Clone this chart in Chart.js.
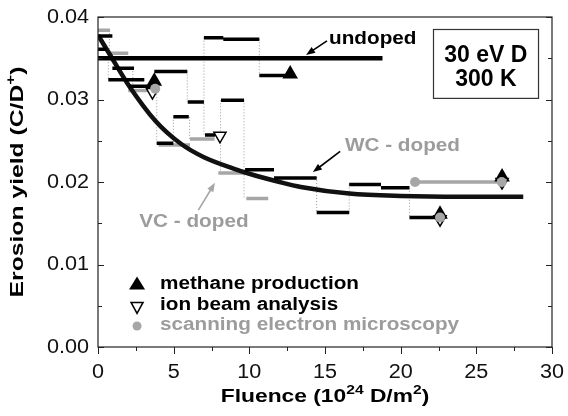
<!DOCTYPE html>
<html lang="en">
<head>
<meta charset="UTF-8">
<title>Erosion yield vs fluence</title>
<script src="https://cdn.jsdelivr.net/npm/chart.js"></script>
<style>
    html, body { margin: 0; padding: 0; background: #fff; }
    #wrap { width: 568px; height: 416px; position: relative; }
</style>
</head>
<body>
<div id="wrap"><canvas id="erosionChart"></canvas></div>
<script>
// axis ticks
const xTicks = [0, 5, 10, 15, 20, 25, 30];
const yTicks = [0.00, 0.01, 0.02, 0.03, 0.04];

// undoped reference level
const undopedX = [0, 18.8];
const undopedY = [0.035, 0.035];

// fitted decay curve
const fitX = [0, 0.7, 2, 3.8, 5.5, 7, 9, 10, 12, 13.4, 16.6, 20, 24, 28.1];
const fitY = [0.0378, 0.0357, 0.0318, 0.0274, 0.0246, 0.0230, 0.0216, 0.0210, 0.0200, 0.0194, 0.0186, 0.0183, 0.0182, 0.0182];

// black step segments: start fluence, end fluence, yield
const blackStart = [0, 0, 0.95, 0.68, 2.07, 3.72, 5.93, 7.0, 8.28, 10.66, 3.88, 4.98, 7.07, 8.13, 9.72, 11.63, 14.45, 16.6, 18.7, 20.58];
const blackEnd   = [0.95, 0.57, 2.38, 3.06, 3.5, 5.9, 7.0, 8.28, 10.66, 12.5, 4.98, 6.0, 7.73, 9.65, 11.63, 14.45, 16.6, 18.7, 20.58, 22.6];
const blackYield = [0.0377, 0.0361, 0.0338, 0.0324, 0.0316, 0.0334, 0.0297, 0.0375, 0.0373, 0.0329, 0.0247, 0.0279, 0.0257, 0.0299, 0.0215, 0.0205, 0.0163, 0.0197, 0.0193, 0.0157];

// grey step segments
const grayStart = [0, 0.68, 2.0, 4.0, 6.08, 7.95, 9.8, 20.95];
const grayEnd   = [0.8, 2.0, 3.44, 6.08, 7.7, 9.72, 11.25, 26.68];
const grayYield = [0.0384, 0.0356, 0.0311, 0.0245, 0.0252, 0.0211, 0.0180, 0.0200];

// dotted vertical links between steps: fluence, from, to
const linkX    = [0.75, 0.68, 2.3, 3.88, 4.98, 5.9, 6.05, 7.0, 8.1, 9.65, 10.66, 14.45, 16.6, 20.58];
const linkFrom = [0.0384, 0.0356, 0.0338, 0.0310, 0.0279, 0.0334, 0.0279, 0.0375, 0.0299, 0.0299, 0.0373, 0.0206, 0.0197, 0.0193];
const linkTo   = [0.0356, 0.0324, 0.0313, 0.0247, 0.0247, 0.0297, 0.0252, 0.0255, 0.0211, 0.0180, 0.0329, 0.0163, 0.0163, 0.0157];

// measurement markers
const methaneX = [3.72, 12.7, 22.6, 26.7];
const methaneY = [0.0322, 0.0331, 0.0161, 0.0206];
const ionX = [3.6, 8.06, 22.6, 26.7];
const ionY = [0.0309, 0.0256, 0.0155, 0.0200];
const semX = [3.78, 20.95, 22.6, 26.68];
const semY = [0.0313, 0.0200, 0.0157, 0.0200];

const FONT = 'Arial, "Liberation Sans", Helvetica, sans-serif';
const GRAY = '#a6a6a6';
const GRAY_TEXT = '#9c9c9c';

function pts(xs, ys) {
    return xs.map((x, i) => ({ x: x, y: ys[i] }));
}
function segs(x0s, x1s, ys) {
    const d = [];
    x0s.forEach((x0, i) => {
        d.push({ x: x0, y: ys[i] }, { x: x1s[i], y: ys[i] }, { x: x1s[i], y: null });
    });
    return d;
}
function links(xs, y0s, y1s) {
    const d = [];
    xs.forEach((x, i) => {
        d.push({ x: x, y: y0s[i] }, { x: x, y: y1s[i] }, { x: x, y: null });
    });
    return d;
}

// text with optional superscript parts and horizontal stretch
function drawText(ctx, parts, x, y, size, opts) {
    const o = Object.assign({ weight: 'bold', color: '#000', align: 'left', sx: 1, rot: 0 }, opts);
    const fontFor = (sup) => o.weight + ' ' + (sup ? Math.round(size * 0.68) : size) + 'px ' + FONT;
    ctx.save();
    ctx.fillStyle = o.color;
    ctx.textBaseline = 'middle';
    ctx.textAlign = 'left';
    let w = 0;
    parts.forEach(p => { ctx.font = fontFor(p[1]); w += ctx.measureText(p[0]).width; });
    ctx.translate(x, y);
    if (o.rot) ctx.rotate(o.rot);
    ctx.scale(o.sx, 1);
    let cx = o.align === 'center' ? -w / 2 : (o.align === 'right' ? -w : 0);
    parts.forEach(p => {
        ctx.font = fontFor(p[1]);
        ctx.fillText(p[0], cx, p[1] ? -size * 0.32 : 0);
        cx += ctx.measureText(p[0]).width;
    });
    ctx.restore();
}

function arrow(ctx, x0, y0, x1, y1, color) {
    const a = Math.atan2(y1 - y0, x1 - x0);
    const L = 9, W = 3.5;
    ctx.save();
    ctx.strokeStyle = color;
    ctx.fillStyle = color;
    ctx.lineWidth = 1.6;
    ctx.beginPath();
    ctx.moveTo(x0, y0);
    ctx.lineTo(x1 - Math.cos(a) * L * 0.8, y1 - Math.sin(a) * L * 0.8);
    ctx.stroke();
    ctx.beginPath();
    ctx.moveTo(x1, y1);
    ctx.lineTo(x1 - Math.cos(a) * L + Math.sin(a) * W, y1 - Math.sin(a) * L - Math.cos(a) * W);
    ctx.lineTo(x1 - Math.cos(a) * L - Math.sin(a) * W, y1 - Math.sin(a) * L + Math.cos(a) * W);
    ctx.closePath();
    ctx.fill();
    ctx.restore();
}

const decorations = {
    id: 'decorations',
    afterDraw(chart) {
        const ctx = chart.ctx;
        const xs = chart.scales.x, ys = chart.scales.y;
        const area = chart.chartArea;
        const X = v => xs.getPixelForValue(v);
        const Y = v => ys.getPixelForValue(v);

        ctx.save();
        // frame
        ctx.strokeStyle = '#222';
        ctx.lineWidth = 1.2;
        ctx.strokeRect(area.left, area.top, area.right - area.left, area.bottom - area.top);

        // y ticks, inward on both sides
        ctx.lineWidth = 1;
        for (let v = 0; v <= 0.04001; v += 0.005) {
            const major = Math.abs(v * 100 - Math.round(v * 100)) < 1e-6;
            const len = major ? 6 : 4;
            const py = Math.round(Y(v)) + 0.5;
            ctx.beginPath();
            ctx.moveTo(area.left, py); ctx.lineTo(area.left + len, py);
            ctx.moveTo(area.right, py); ctx.lineTo(area.right - len, py);
            ctx.stroke();
        }
        // x ticks, outward
        for (let v = 0; v <= 30.001; v += 2.5) {
            const major = Math.abs(v / 5 - Math.round(v / 5)) < 1e-6;
            const px = Math.round(X(v)) + 0.5;
            ctx.beginPath();
            ctx.moveTo(px, area.bottom); ctx.lineTo(px, area.bottom + (major ? 7 : 4));
            ctx.stroke();
        }
        ctx.restore();

        // tick labels
        yTicks.forEach(v => drawText(ctx, [[v.toFixed(2)]], area.left - 9, Y(v), 20, { weight: 'normal', align: 'right', color: '#111', sx: 1.08 }));
        xTicks.forEach(v => drawText(ctx, [[String(v)]], X(v), area.bottom + 25, 20, { weight: 'normal', align: 'center', color: '#111', sx: 1.08 }));

        // axis titles
        drawText(ctx, [['Fluence (10'], ['24', true], [' D/m'], ['2', true], [')']], (area.left + area.right) / 2, area.bottom + 50, 19, { align: 'center', sx: 1.2 });
        drawText(ctx, [['Erosion yield (C/D'], ['+', true], [')']], 18, (area.top + area.bottom) / 2, 19, { align: 'center', sx: 1.3, rot: -Math.PI / 2 });

        // annotations
        drawText(ctx, [['undoped']], X(15.27), Y(0.0373), 18, { sx: 1.15 });
        arrow(ctx, X(15.13), Y(0.0371), X(13.75), Y(0.0354), '#000');
        drawText(ctx, [['WC - doped']], X(16.32), Y(0.0243), 18, { sx: 1.15, color: GRAY_TEXT });
        arrow(ctx, X(16.0), Y(0.0237), X(14.2), Y(0.0212), '#000');
        drawText(ctx, [['VC - doped']], X(2.73), Y(0.0152), 18, { sx: 1.15, color: GRAY_TEXT });
        arrow(ctx, X(6.63), Y(0.0166), X(7.73), Y(0.0199), GRAY);

        // condition box
        ctx.save();
        ctx.strokeStyle = '#333';
        ctx.lineWidth = 1.2;
        ctx.strokeRect(Math.round(X(22.16)) + 0.5, Math.round(Y(0.0386)) + 0.5, X(29.1) - X(22.16), Y(0.03025) - Y(0.0386));
        ctx.restore();
        drawText(ctx, [['30 eV D']], X(25.63), Y(0.0353), 23, { align: 'center' });
        drawText(ctx, [['300 K']], X(25.63), Y(0.0324), 23, { align: 'center' });

        // legend
        const lx = X(2.58);
        ctx.save();
        ctx.fillStyle = '#000';
        let ly = Y(0.0077);
        ctx.beginPath();
        ctx.moveTo(lx, ly - 7); ctx.lineTo(lx + 8, ly + 6); ctx.lineTo(lx - 8, ly + 6); ctx.closePath();
        ctx.fill();
        ly = Y(0.0048);
        ctx.fillStyle = '#fff'; ctx.strokeStyle = '#000'; ctx.lineWidth = 1.5;
        ctx.beginPath();
        ctx.moveTo(lx, ly + 6); ctx.lineTo(lx + 6, ly - 5); ctx.lineTo(lx - 6, ly - 5); ctx.closePath();
        ctx.fill(); ctx.stroke();
        ly = Y(0.00255);
        ctx.fillStyle = GRAY;
        ctx.beginPath(); ctx.arc(lx, ly, 4.5, 0, Math.PI * 2); ctx.fill();
        ctx.restore();
        drawText(ctx, [['methane production']], X(4.1), Y(0.0076), 18, { sx: 1.15 });
        drawText(ctx, [['ion beam analysis']], X(4.1), Y(0.0051), 18, { sx: 1.15 });
        drawText(ctx, [['scanning electron microscopy']], X(4.1), Y(0.0027), 18, { sx: 1.15, color: GRAY_TEXT });
    }
};

const ctx = document.getElementById('erosionChart').getContext('2d');
const chart = new Chart(ctx, {
    type: 'scatter',
    data: {
        datasets: [
            {
                label: 'methane production',
                data: pts(methaneX, methaneY),
                pointStyle: 'triangle',
                pointRadius: 9,
                backgroundColor: '#000',
                borderColor: '#000',
                borderWidth: 0,
                order: 2
            },
            {
                label: 'ion beam analysis',
                data: pts(ionX, ionY),
                pointStyle: 'triangle',
                rotation: 180,
                pointRadius: 7,
                backgroundColor: '#fff',
                borderColor: '#000',
                borderWidth: 1.5,
                order: 1
            },
            {
                label: 'scanning electron microscopy',
                data: pts(semX, semY),
                pointStyle: 'circle',
                pointRadius: 5,
                backgroundColor: GRAY,
                borderColor: GRAY,
                borderWidth: 0,
                order: 0
            },
            {
                label: 'undoped',
                data: pts(undopedX, undopedY),
                showLine: true,
                pointRadius: 0,
                borderColor: '#000',
                borderWidth: 4.5,
                borderCapStyle: 'butt',
                order: 4
            },
            {
                label: 'fit',
                data: pts(fitX, fitY),
                showLine: true,
                pointRadius: 0,
                borderColor: '#111',
                borderWidth: 4.5,
                cubicInterpolationMode: 'monotone',
                order: 5
            },
            {
                label: 'black steps',
                data: segs(blackStart, blackEnd, blackYield),
                showLine: true,
                spanGaps: false,
                pointRadius: 0,
                borderColor: '#000',
                borderWidth: 3.5,
                borderCapStyle: 'butt',
                order: 3
            },
            {
                label: 'grey steps',
                data: segs(grayStart, grayEnd, grayYield),
                showLine: true,
                spanGaps: false,
                pointRadius: 0,
                borderColor: GRAY,
                borderWidth: 3.5,
                borderCapStyle: 'butt',
                order: 6
            },
            {
                label: 'links',
                data: links(linkX, linkFrom, linkTo),
                showLine: true,
                spanGaps: false,
                pointRadius: 0,
                borderColor: '#999',
                borderWidth: 1,
                borderDash: [1, 2],
                order: 7
            }
        ]
    },
    options: {
        responsive: true,
        maintainAspectRatio: false,
        animation: false,
        layout: { padding: { left: 0, right: 16, top: 17, bottom: 0 } },
        plugins: {
            legend: { display: false },
            tooltip: { enabled: false }
        },
        scales: {
            x: {
                type: 'linear',
                min: 0,
                max: 30,
                grid: { display: false },
                border: { display: false },
                ticks: { display: false },
                afterFit: s => { s.height = 69; }
            },
            y: {
                type: 'linear',
                min: 0,
                max: 0.04,
                grid: { display: false },
                border: { display: false },
                ticks: { display: false },
                afterFit: s => { s.width = 98; }
            }
        }
    },
    plugins: [decorations]
});
</script>
</body>
</html>
